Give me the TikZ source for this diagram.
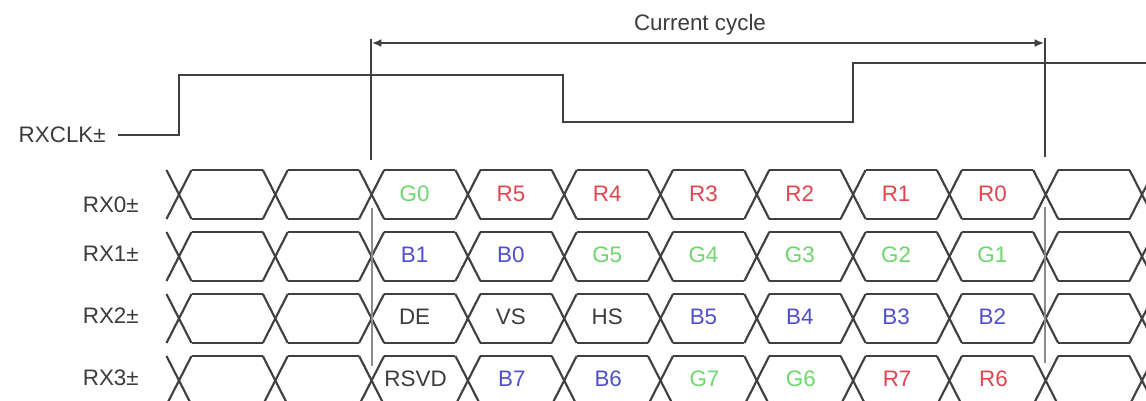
\documentclass[tikz,border=0pt]{standalone}
\usepackage{fontspec}
\setmainfont{Liberation Sans}
\usetikzlibrary{arrows.meta}
\definecolor{wire}{RGB}{64,64,64}
\definecolor{guide}{RGB}{140,140,140}
\definecolor{tg}{RGB}{110,215,110}
\definecolor{tr}{RGB}{225,70,80}
\definecolor{tb}{RGB}{80,80,205}
\definecolor{tk}{RGB}{60,60,60}
\tikzset{
  wave/.style={draw=wire,line width=1.6pt,line join=miter},
  sig/.style={font=\fontsize{16.8}{19}\selectfont,text=tk,inner sep=0pt},
  lbl/.style={font=\fontsize{16.8}{19}\selectfont,text=tk,inner sep=0pt,anchor=east},
  marker/.style={draw=wire,line width=1.5pt},
  guideline/.style={draw=guide,line width=1.4pt},
}
\begin{document}
\begin{tikzpicture}[x=0.75pt,y=-0.75pt]
\useasboundingbox (0,0) rectangle (1146,400);
\clip (0,0) rectangle (1146,400);
\fill[white] (0,0) rectangle (1146,400);
% clock
\node[lbl] (clk) at (106,135) {RXCLK\textpm};
\coordinate (c0) at (118,135);
\coordinate (c1) at (1146,63);
\draw[wave] (c0) -- (179,135) -- (179,75) -- (563,75) -- (563,122) -- (853,122) -- (853,63) -- (c1);
% eye rows
\def\per{96.3}
\def\dd{12.5}
\def\hh{24.5}
\foreach \r/\yc in {0/194.5,1/256.5,2/318.5,3/380.5}{
  \foreach \k in {0,...,10}{
    \pgfmathsetmacro{\xk}{179+\per*\k}
    \draw[wave] (\xk-\dd,\yc-\hh) -- (\xk+\dd,\yc+\hh);
    \draw[wave] (\xk-\dd,\yc+\hh) -- (\xk+\dd,\yc-\hh);
  }
  \foreach \k in {0,...,10}{
    \pgfmathsetmacro{\xa}{179+\per*\k+\dd}
    \pgfmathsetmacro{\xb}{179+\per*(\k+1)-\dd}
    \draw[wave] (\xa,\yc-\hh) -- (\xb,\yc-\hh);
    \draw[wave] (\xa,\yc+\hh) -- (\xb,\yc+\hh);
  }
}
% row labels
\node[lbl] (l0) at (139,205) {RX0\textpm};
\node[lbl] (l1) at (139,254) {RX1\textpm};
\node[lbl] (l2) at (139,316) {RX2\textpm};
\node[lbl] (l3) at (139,378) {RX3\textpm};
% cell texts
\foreach \j/\t/\c in {2/G0/tg,3/R5/tr,4/R4/tr,5/R3/tr,6/R2/tr,7/R1/tr,8/R0/tr}{
  \node[sig,text=\c] (a\j) at ({179+96.3*\j+48-5},194) {\t};}
\foreach \j/\t/\c in {2/B1/tb,3/B0/tb,4/G5/tg,5/G4/tg,6/G3/tg,7/G2/tg,8/G1/tg}{
  \node[sig,text=\c] (b\j) at ({179+96.3*\j+48-5},255) {\t};}
\foreach \j/\t/\c in {2/DE/tk,3/VS/tk,4/HS/tk,5/B5/tb,6/B4/tb,7/B3/tb,8/B2/tb}{
  \node[sig,text=\c] (d\j) at ({179+96.3*\j+48-5},317) {\t};}
\foreach \j/\t/\c in {2/RSVD/tk,3/B7/tb,4/B6/tb,5/G7/tg,6/G6/tg,7/R7/tr,8/R6/tr}{
  \node[sig,text=\c] (e\j) at ({179+96.3*\j+48-4},379) {\t};}
% cycle markers
\coordinate (mlt) at (371,39);
\coordinate (mlb) at (371,160);
\coordinate (mrt) at (1045,38);
\coordinate (mrb) at (1045,157);
\draw[marker] (mlt) -- (mlb);
\draw[marker] (mrt) -- (mrb);
\coordinate (al) at (372,43);
\coordinate (ar) at (1044,43);
\draw[marker,line width=1.3pt,{Latex[length=7pt,width=6pt]}-{Latex[length=7pt,width=6pt]}] (al) -- (ar);
\node[sig] (cc) at (700,25) {Current cycle};
% guide lines inside rows
\coordinate (glt) at (372,208);
\coordinate (glb) at (372,366);
\coordinate (grt) at (1045,207);
\coordinate (grb) at (1045,363);
\draw[guideline] (glt) -- (glb);
\draw[guideline] (grt) -- (grb);
\end{tikzpicture}
\end{document}
